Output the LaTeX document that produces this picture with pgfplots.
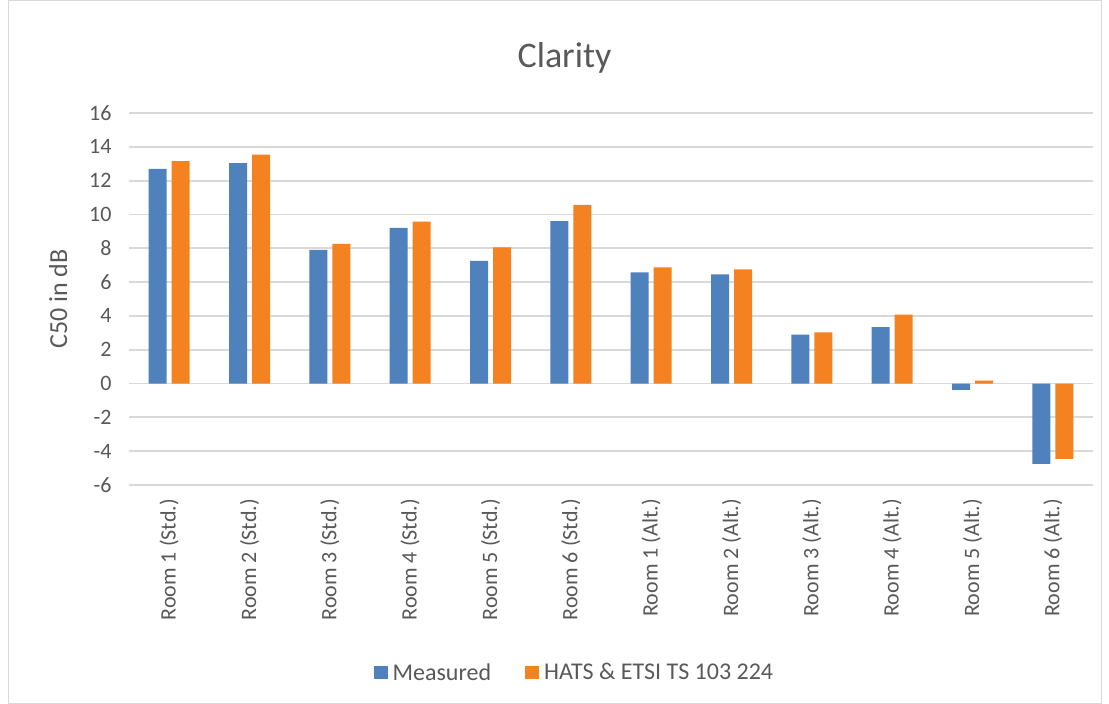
\documentclass[border=0pt]{standalone}
\usepackage{fontspec}
\setmainfont{Carlito}
\usepackage{pgfplots}
\pgfplotsset{compat=1.18}
\definecolor{mblue}{RGB}{79,129,189}
\definecolor{morange}{RGB}{245,130,32}
\definecolor{gridgray}{RGB}{217,217,217}
\definecolor{txtgray}{RGB}{89,89,89}
\begin{document}
\begin{tikzpicture}
\useasboundingbox (0bp,0bp) rectangle (1109bp,704bp);
\fill[white] (0bp,0bp) rectangle (1109bp,704bp);
\draw[gridgray, line width=1bp] (8bp,1bp) rectangle (1101bp,703bp);
\begin{axis}[
  at={(129bp,219bp)}, anchor=south west,
  scale only axis, width=964bp, height=372bp,
  ybar=5bp, bar width=18bp,
  xmin=-0.5, xmax=11.5, ymin=-6, ymax=16,
  ytick={-6,-4,...,16},
  xtick={0,1,...,11},
  xticklabels={Room 1 (Std.), Room 2 (Std.), Room 3 (Std.), Room 4 (Std.), Room 5 (Std.), Room 6 (Std.), Room 1 (Alt.), Room 2 (Alt.), Room 3 (Alt.), Room 4 (Alt.), Room 5 (Alt.), Room 6 (Alt.)},
  x tick label style={rotate=90, anchor=east, font=\fontsize{22bp}{26bp}\selectfont, text=txtgray, inner xsep=14bp, inner ysep=2bp},
  y tick label style={font=\fontsize{22bp}{26bp}\selectfont, text=txtgray, xshift=-14bp},
  /pgf/number format/assume math mode=true,
  axis line style={draw=none},
  major tick length=0pt,
  ymajorgrids, xmajorgrids=false,
  grid style={gridgray, line width=1.8bp},
  legend style={at={(axis description cs:0.462,-0.504)}, anchor=center, draw=none, fill=none,
    legend columns=2, font=\fontsize{24bp}{28bp}\selectfont, text=txtgray,
    /tikz/every odd column/.append style={column sep=3bp},
    /tikz/every even column/.append style={column sep=32bp}},
  legend image code/.code={\fill[#1] (0bp,-7bp) rectangle (14bp,6bp);},
]
\addplot[fill=mblue, draw=none] coordinates {
(0,12.69) (1,13.03) (2,7.90) (3,9.20) (4,7.25) (5,9.60)
(6,6.57) (7,6.45) (8,2.89) (9,3.33) (10,-0.37) (11,-4.75)};
\addplot[fill=morange, draw=none] coordinates {
(0,13.15) (1,13.54) (2,8.26) (3,9.58) (4,8.06) (5,10.57)
(6,6.87) (7,6.75) (8,3.03) (9,4.08) (10,0.18) (11,-4.45)};
\legend{Measured, HATS \& ETSI TS 103 224}
\end{axis}
\node[text=txtgray, anchor=base, font=\fontsize{36bp}{42bp}\selectfont] at (564.5bp,636.5bp) {Clarity};
\node[text=txtgray, rotate=90, anchor=base, font=\fontsize{26bp}{30bp}\selectfont] at (67bp,405bp) {C50 in dB};
\end{tikzpicture}
\end{document}
